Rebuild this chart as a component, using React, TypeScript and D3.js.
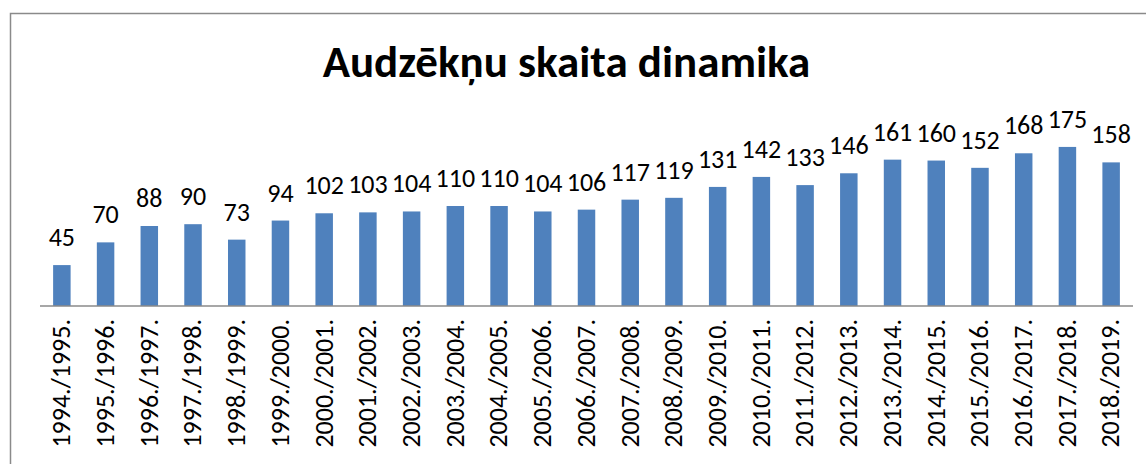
import React from "react";
import * as d3 from "d3";

const categories = [
  "1994./1995.", "1995./1996.", "1996./1997.", "1997./1998.", "1998./1999.",
  "1999./2000.", "2000./2001.", "2001./2002.", "2002./2003.", "2003./2004.",
  "2004./2005.", "2005./2006.", "2006./2007.", "2007./2008.", "2008./2009.",
  "2009./2010.", "2010./2011.", "2011./2012.", "2012./2013.", "2013./2014.",
  "2014./2015.", "2015./2016.", "2016./2017.", "2017./2018.", "2018./2019.",
];
const values = [45, 70, 88, 90, 73, 94, 102, 103, 104, 110, 110, 104, 106, 117, 119, 131, 142, 133, 146, 161, 160, 152, 168, 175, 158];
const title = "Audzēkņu skaita dinamika";

const W = 1148;
const H = 464;

export default function App() {
  const x = d3
    .scaleBand<string>()
    .domain(categories)
    .range([40, 1133])
    .paddingInner(0.6)
    .paddingOuter(0.3);
  const y = d3.scaleLinear().domain([0, 200]).range([306, 124.2]);
  const font = "Carlito, Calibri, sans-serif";

  return (
    <svg
      width={W}
      height={H}
      style={{ position: "absolute", left: 0, top: 0, background: "#fff" }}
    >
      <rect x={0} y={0} width={W} height={H} fill="#fff" />
      <path d="M10.5,470 L10.5,13.5 L1146,13.5" fill="none" stroke="#8a8a8a" strokeWidth={1.5} />
      <text
        x={566.5}
        y={77}
        textAnchor="middle"
        fontFamily={font}
        fontWeight={700}
        fontSize={45}
        fill="#000"
      >
        {title}
      </text>
      {categories.map((c, i) => (
        <rect
          key={c}
          x={x(c)}
          y={y(values[i])}
          width={x.bandwidth()}
          height={y(0) - y(values[i])}
          fill="#4F81BD"
        />
      ))}
      <line x1={40} x2={1133} y1={y(0)} y2={y(0)} stroke="#8a8a8a" strokeWidth={1.5} />
      {categories.map((c, i) => (
        <text
          key={"v" + c}
          x={(x(c) as number) + x.bandwidth() / 2}
          y={y(values[i]) - 19}
          textAnchor="middle"
          fontFamily={font}
          fontSize={26}
          fill="#000"
        >
          {values[i]}
        </text>
      ))}
      {categories.map((c) => {
        const cx = (x(c) as number) + x.bandwidth() / 2;
        return (
          <text
            key={"l" + c}
            transform={`translate(${cx},319) rotate(-90)`}
            textAnchor="end"
            dy="0.32em"
            fontFamily={font}
            fontSize={26}
            fill="#000"
          >
            {c}
          </text>
        );
      })}
    </svg>
  );
}
